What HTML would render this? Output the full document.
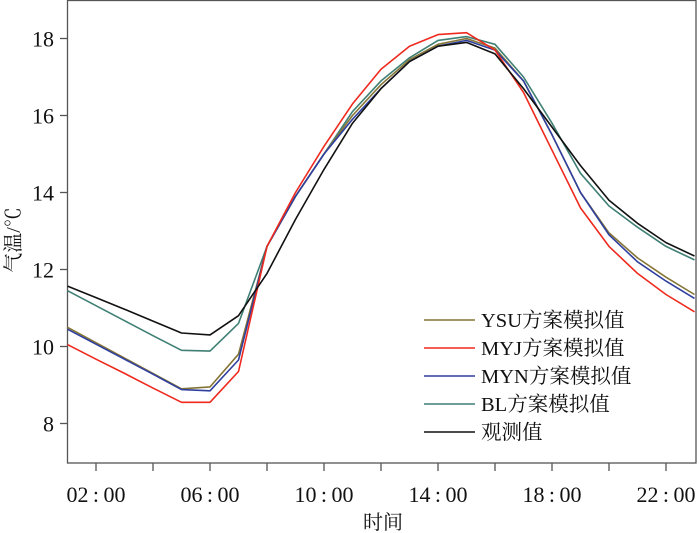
<!DOCTYPE html>
<html><head><meta charset="utf-8"><style>
html,body{margin:0;padding:0;background:#fff;}
svg{display:block;}
text{font-family:"Liberation Serif","Noto Serif CJK SC","Noto Sans CJK SC",serif;fill:#111;}
</style></head><body>
<svg id="s" width="700" height="533" viewBox="0 0 700 533" xmlns="http://www.w3.org/2000/svg">
<rect x="67.5" y="0.5" width="628.5" height="462.5" fill="none" stroke="#555" stroke-width="1.3"/>
<g id="ticks" stroke="#555" stroke-width="1.3"></g>
<g font-size="22" text-anchor="end" id="ylab"></g>
<g font-size="22" text-anchor="middle" id="xlab"></g>
<g id="lines" fill="none" stroke-width="1.6" stroke-linejoin="round"></g>
<text x="383" y="529" font-size="20" text-anchor="middle">时间</text>
<text transform="translate(20,240) rotate(-90)" font-size="20" text-anchor="middle">气温/℃</text>
<g id="leg" font-size="20.5"></g>
</svg>
<script>
var NS="http://www.w3.org/2000/svg";
function el(p,t,a,txt){var e=document.createElementNS(NS,t);for(var k in a)e.setAttribute(k,a[k]);if(txt)e.textContent=txt;document.getElementById(p).appendChild(e);return e;}
function X(h){return 67.5+(h-1)*28.5;}
function Y(v){return 38.5+(18-v)*38.5;}
[8,10,12,14,16,18].forEach(function(v){el("ticks","line",{x1:60,x2:67.5,y1:Y(v),y2:Y(v)});el("ylab","text",{x:54,y:Y(v)+8},String(v));});
for(var h=2;h<=22;h+=2){el("ticks","line",{x1:X(h),x2:X(h),y1:463,y2:471});}
["02:00","06:00","10:00","14:00","18:00","22:00"].forEach(function(t,i){el("xlab","text",{x:X(2+4*i),y:502},t.replace(":","\u2009:\u2009"));});
var D={
bl:["#3f7f74",[11.45,11.06,10.67,10.28,9.9,9.88,10.6,12.6,13.9,15.0,16.1,16.9,17.5,17.95,18.05,17.85,17.0,15.8,14.5,13.65,13.1,12.6,12.25]],
ysu:["#857535",[10.5,10.1,9.7,9.3,8.9,8.95,9.8,12.6,13.9,15.0,16.0,16.8,17.45,17.85,18.0,17.75,16.9,15.5,14.0,12.95,12.3,11.8,11.35]],
myn:["#2f3f9f",[10.45,10.06,9.67,9.28,8.88,8.85,9.65,12.6,13.9,15.0,15.9,16.7,17.4,17.8,17.95,17.7,16.9,15.5,14.0,12.9,12.2,11.7,11.25]],
myj:["#ee2a1e",[10.05,9.67,9.3,8.92,8.55,8.55,9.35,12.6,14.0,15.2,16.3,17.2,17.8,18.1,18.15,17.7,16.6,15.1,13.6,12.6,11.9,11.35,10.9]],
obs:["#111111",[11.57,11.27,10.97,10.66,10.35,10.3,10.8,11.9,13.3,14.6,15.8,16.7,17.4,17.8,17.9,17.6,16.7,15.7,14.7,13.8,13.2,12.7,12.35]]};
for(var k in D){var p=D[k][1].map(function(v,i){return X(i+1).toFixed(1)+","+Y(v).toFixed(1);}).join(" ");el("lines","polyline",{points:p,stroke:D[k][0]});}
[["YSU方案模拟值","#857535"],["MYJ方案模拟值","#ee2a1e"],["MYN方案模拟值","#2f3f9f"],["BL方案模拟值","#3f7f74"],["观测值","#111111"]].forEach(function(r,i){var y=320+i*28;el("leg","line",{x1:424,x2:475,y1:y,y2:y,stroke:r[1],"stroke-width":1.6});el("leg","text",{x:481,y:y+7},r[0]);});
</script>
</body></html>
